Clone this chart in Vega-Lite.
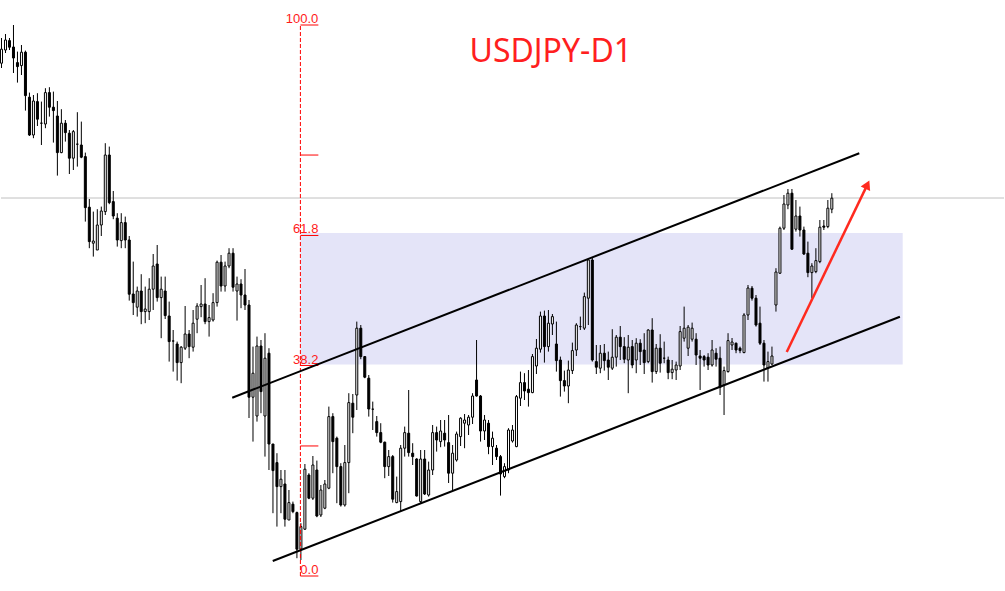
{
  "$schema": "https://vega.github.io/schema/vega-lite/v6.json",
  "width": 1005,
  "height": 591,
  "padding": 0,
  "autosize": {"type": "fit", "contains": "padding"},
  "background": "#ffffff",
  "config": {"view": {"stroke": null}, "scale": {"continuousPadding": 0}},
  "datasets": {
    "candles": [
      {"i":0,"o":151.84,"h":153.1,"l":151.6,"c":152.54},
      {"i":1,"o":152.5,"h":153.3,"l":152.35,"c":153.0},
      {"i":2,"o":152.97,"h":153.1,"l":152.5,"c":152.64},
      {"i":3,"o":152.65,"h":153.75,"l":151.35,"c":152.1},
      {"i":4,"o":151.87,"h":152.42,"l":150.87,"c":151.67},
      {"i":5,"o":151.72,"h":152.75,"l":151.25,"c":152.39},
      {"i":6,"o":152.39,"h":152.47,"l":149.47,"c":150.22},
      {"i":7,"o":150.14,"h":150.37,"l":148.2,"c":148.25},
      {"i":8,"o":148.25,"h":150.25,"l":148.09,"c":149.95},
      {"i":9,"o":149.92,"h":150.34,"l":148.7,"c":149.04},
      {"i":10,"o":148.84,"h":149.92,"l":147.75,"c":148.84},
      {"i":11,"o":148.8,"h":150.59,"l":148.59,"c":150.37},
      {"i":12,"o":150.37,"h":150.64,"l":149.17,"c":149.64},
      {"i":13,"o":149.64,"h":150.42,"l":147.87,"c":149.47},
      {"i":14,"o":149.2,"h":149.95,"l":146.22,"c":147.37},
      {"i":15,"o":147.37,"h":149.54,"l":147.34,"c":148.84},
      {"i":16,"o":148.84,"h":149.0,"l":147.92,"c":148.37},
      {"i":17,"o":148.34,"h":148.5,"l":146.3,"c":147.09},
      {"i":18,"o":147.09,"h":148.5,"l":146.5,"c":148.42},
      {"i":19,"o":147.79,"h":149.39,"l":146.67,"c":147.79},
      {"i":20,"o":147.75,"h":148.92,"l":147.09,"c":147.14},
      {"i":21,"o":147.17,"h":147.37,"l":143.92,"c":144.62},
      {"i":22,"o":144.64,"h":145.05,"l":142.59,"c":142.92},
      {"i":23,"o":142.84,"h":144.42,"l":142.17,"c":142.95},
      {"i":24,"o":142.5,"h":144.54,"l":142.5,"c":143.75},
      {"i":25,"o":143.75,"h":144.67,"l":143.2,"c":144.45},
      {"i":26,"o":144.42,"h":147.84,"l":144.25,"c":147.25},
      {"i":27,"o":147.25,"h":147.67,"l":144.79,"c":144.87},
      {"i":28,"o":144.92,"h":145.45,"l":144.04,"c":144.2},
      {"i":29,"o":144.09,"h":144.34,"l":142.67,"c":143.0},
      {"i":30,"o":142.97,"h":144.34,"l":142.59,"c":143.87},
      {"i":31,"o":143.87,"h":144.17,"l":142.59,"c":143.0},
      {"i":32,"o":143.0,"h":143.2,"l":139.97,"c":140.29},
      {"i":33,"o":140.3,"h":141.92,"l":139.25,"c":139.87},
      {"i":34,"o":139.64,"h":140.67,"l":139.17,"c":140.45},
      {"i":35,"o":140.45,"h":141.29,"l":138.79,"c":139.42},
      {"i":36,"o":139.42,"h":140.67,"l":138.84,"c":139.55},
      {"i":37,"o":139.42,"h":141.09,"l":139.0,"c":140.54},
      {"i":38,"o":140.54,"h":142.3,"l":139.5,"c":141.7},
      {"i":39,"o":141.8,"h":142.75,"l":139.92,"c":140.12},
      {"i":40,"o":140.12,"h":141.17,"l":138.09,"c":140.54},
      {"i":41,"o":140.45,"h":141.17,"l":139.05,"c":139.22},
      {"i":42,"o":139.2,"h":139.92,"l":136.92,"c":137.92},
      {"i":43,"o":137.95,"h":138.5,"l":136.42,"c":137.95},
      {"i":44,"o":137.8,"h":137.92,"l":135.97,"c":136.87},
      {"i":45,"o":136.87,"h":137.7,"l":135.84,"c":137.64},
      {"i":46,"o":137.59,"h":139.7,"l":137.5,"c":138.3},
      {"i":47,"o":138.3,"h":138.5,"l":137.09,"c":137.67},
      {"i":48,"o":137.64,"h":139.5,"l":137.42,"c":138.84},
      {"i":49,"o":139.04,"h":139.84,"l":138.34,"c":139.7},
      {"i":50,"o":139.67,"h":140.75,"l":139.14,"c":139.8},
      {"i":51,"o":139.8,"h":141.09,"l":138.79,"c":138.92},
      {"i":52,"o":138.92,"h":139.75,"l":138.17,"c":139.12},
      {"i":53,"o":139.0,"h":140.34,"l":138.92,"c":139.87},
      {"i":54,"o":139.87,"h":141.97,"l":139.67,"c":141.89},
      {"i":55,"o":141.89,"h":142.25,"l":140.42,"c":140.7},
      {"i":56,"o":140.7,"h":141.92,"l":140.42,"c":141.7},
      {"i":57,"o":141.7,"h":142.59,"l":141.59,"c":142.34},
      {"i":58,"o":142.34,"h":142.59,"l":140.42,"c":140.64},
      {"i":59,"o":140.45,"h":141.17,"l":138.97,"c":140.8},
      {"i":60,"o":140.8,"h":141.04,"l":139.59,"c":140.25},
      {"i":61,"o":140.25,"h":141.55,"l":139.5,"c":139.75},
      {"i":62,"o":139.75,"h":140.0,"l":134.1,"c":135.14},
      {"i":63,"o":135.14,"h":137.67,"l":132.92,"c":136.34},
      {"i":64,"o":134.2,"h":138.17,"l":133.92,"c":137.7},
      {"i":65,"o":137.7,"h":138.0,"l":134.34,"c":135.42},
      {"i":66,"o":134.2,"h":138.34,"l":132.17,"c":137.09},
      {"i":67,"o":137.34,"h":137.59,"l":131.5,"c":132.8},
      {"i":68,"o":132.8,"h":132.8,"l":129.34,"c":131.47},
      {"i":69,"o":131.87,"h":132.34,"l":128.67,"c":130.67},
      {"i":70,"o":130.67,"h":131.5,"l":129.34,"c":131.04},
      {"i":71,"o":130.8,"h":131.5,"l":128.67,"c":129.04},
      {"i":72,"o":129.0,"h":130.5,"l":129.0,"c":129.87},
      {"i":73,"o":129.79,"h":129.92,"l":129.34,"c":129.42},
      {"i":74,"o":129.37,"h":129.42,"l":127.09,"c":127.54},
      {"i":75,"o":127.54,"h":128.84,"l":127.0,"c":128.67},
      {"i":76,"o":128.54,"h":131.8,"l":128.5,"c":131.54},
      {"i":77,"o":131.25,"h":131.34,"l":130.04,"c":130.09},
      {"i":78,"o":130.09,"h":132.2,"l":130.0,"c":131.75},
      {"i":79,"o":131.5,"h":131.97,"l":129.14,"c":129.2},
      {"i":80,"o":129.25,"h":130.75,"l":129.15,"c":130.5},
      {"i":81,"o":129.59,"h":131.0,"l":129.54,"c":130.8},
      {"i":82,"o":130.59,"h":134.67,"l":130.54,"c":134.17},
      {"i":83,"o":134.17,"h":134.34,"l":131.34,"c":132.92},
      {"i":84,"o":133.09,"h":133.17,"l":129.84,"c":131.67},
      {"i":85,"o":131.67,"h":131.84,"l":129.67,"c":129.75},
      {"i":86,"o":129.75,"h":132.75,"l":129.67,"c":131.87},
      {"i":87,"o":131.87,"h":135.34,"l":130.34,"c":134.87},
      {"i":88,"o":134.84,"h":135.3,"l":133.34,"c":134.14},
      {"i":89,"o":135.25,"h":138.92,"l":134.5,"c":138.59},
      {"i":90,"o":138.59,"h":138.75,"l":137.04,"c":137.17},
      {"i":91,"o":137.17,"h":137.2,"l":136.09,"c":136.14},
      {"i":92,"o":136.09,"h":136.25,"l":134.17,"c":134.55},
      {"i":93,"o":134.54,"h":134.92,"l":133.5,"c":134.54},
      {"i":94,"o":133.92,"h":134.2,"l":133.17,"c":133.37},
      {"i":95,"o":133.37,"h":133.84,"l":132.84,"c":132.89},
      {"i":96,"o":132.89,"h":132.92,"l":131.09,"c":131.67},
      {"i":97,"o":131.67,"h":132.5,"l":131.2,"c":132.17},
      {"i":98,"o":132.17,"h":132.25,"l":129.87,"c":130.04},
      {"i":99,"o":129.87,"h":131.17,"l":129.84,"c":130.42},
      {"i":100,"o":129.92,"h":132.75,"l":129.42,"c":132.59},
      {"i":101,"o":132.59,"h":133.67,"l":132.17,"c":133.37},
      {"i":102,"o":133.34,"h":135.5,"l":132.17,"c":132.37},
      {"i":103,"o":132.34,"h":132.84,"l":131.75,"c":132.17},
      {"i":104,"o":132.05,"h":132.09,"l":130.17,"c":130.2},
      {"i":105,"o":129.92,"h":132.5,"l":129.84,"c":132.05},
      {"i":106,"o":132.05,"h":132.5,"l":130.25,"c":130.3},
      {"i":107,"o":130.25,"h":131.92,"l":130.17,"c":131.5},
      {"i":108,"o":131.5,"h":133.75,"l":131.25,"c":133.37},
      {"i":109,"o":133.37,"h":133.67,"l":132.42,"c":133.0},
      {"i":110,"o":132.92,"h":134.0,"l":132.64,"c":133.45},
      {"i":111,"o":133.34,"h":134.0,"l":132.67,"c":133.0},
      {"i":112,"o":132.87,"h":134.25,"l":130.85,"c":131.34},
      {"i":113,"o":131.34,"h":132.75,"l":130.5,"c":132.34},
      {"i":114,"o":132.0,"h":133.42,"l":131.92,"c":133.3},
      {"i":115,"o":133.17,"h":134.14,"l":132.7,"c":134.09},
      {"i":116,"o":133.84,"h":134.3,"l":132.59,"c":134.0},
      {"i":117,"o":133.75,"h":134.25,"l":133.25,"c":134.14},
      {"i":118,"o":134.14,"h":135.34,"l":133.8,"c":135.2},
      {"i":119,"o":136.0,"h":138.0,"l":135.17,"c":135.2},
      {"i":120,"o":135.2,"h":135.25,"l":132.92,"c":133.45},
      {"i":121,"o":133.45,"h":134.25,"l":133.0,"c":134.0},
      {"i":122,"o":133.84,"h":134.0,"l":132.29,"c":132.67},
      {"i":123,"o":132.67,"h":133.42,"l":131.75,"c":133.09},
      {"i":124,"o":132.59,"h":132.75,"l":132.0,"c":132.17},
      {"i":125,"o":132.17,"h":132.25,"l":130.22,"c":131.3},
      {"i":126,"o":131.17,"h":131.84,"l":131.09,"c":131.67},
      {"i":127,"o":131.5,"h":133.59,"l":131.34,"c":133.5},
      {"i":128,"o":132.95,"h":133.75,"l":132.87,"c":133.5},
      {"i":129,"o":132.67,"h":135.25,"l":132.64,"c":135.17},
      {"i":130,"o":135.09,"h":136.42,"l":134.7,"c":135.87},
      {"i":131,"o":135.87,"h":136.34,"l":135.0,"c":135.45},
      {"i":132,"o":135.54,"h":136.5,"l":134.67,"c":135.37},
      {"i":133,"o":135.37,"h":137.3,"l":135.34,"c":137.17},
      {"i":134,"o":136.7,"h":138.05,"l":136.3,"c":137.59},
      {"i":135,"o":137.54,"h":139.42,"l":137.37,"c":139.2},
      {"i":136,"o":139.2,"h":139.47,"l":136.87,"c":137.67},
      {"i":137,"o":137.67,"h":139.5,"l":137.42,"c":138.84},
      {"i":138,"o":138.8,"h":139.3,"l":138.25,"c":139.17},
      {"i":139,"o":137.8,"h":138.92,"l":136.42,"c":136.97},
      {"i":140,"o":137.0,"h":137.17,"l":135.17,"c":135.97},
      {"i":141,"o":135.97,"h":136.47,"l":135.42,"c":135.7},
      {"i":142,"o":135.7,"h":136.97,"l":134.84,"c":136.5},
      {"i":143,"o":136.47,"h":137.87,"l":136.3,"c":137.47},
      {"i":144,"o":137.5,"h":138.84,"l":137.2,"c":138.75},
      {"i":145,"o":138.67,"h":139.17,"l":138.5,"c":138.67},
      {"i":146,"o":138.59,"h":140.37,"l":138.5,"c":140.17},
      {"i":147,"o":140.09,"h":142.04,"l":138.75,"c":142.0},
      {"i":148,"o":142.0,"h":142.14,"l":136.92,"c":137.0},
      {"i":149,"o":136.92,"h":137.75,"l":136.3,"c":136.64},
      {"i":150,"o":136.59,"h":137.75,"l":136.34,"c":137.34},
      {"i":151,"o":137.34,"h":137.8,"l":136.47,"c":136.97},
      {"i":152,"o":137.0,"h":137.42,"l":136.0,"c":136.64},
      {"i":153,"o":136.59,"h":138.54,"l":136.5,"c":137.14},
      {"i":154,"o":137.14,"h":138.25,"l":136.67,"c":138.14},
      {"i":155,"o":138.14,"h":138.7,"l":137.0,"c":137.67},
      {"i":156,"o":137.67,"h":138.14,"l":136.84,"c":137.04},
      {"i":157,"o":137.0,"h":138.25,"l":135.34,"c":137.64},
      {"i":158,"o":137.67,"h":138.0,"l":136.59,"c":136.75},
      {"i":159,"o":137.0,"h":138.09,"l":136.34,"c":137.84},
      {"i":160,"o":137.84,"h":138.04,"l":136.75,"c":137.42},
      {"i":161,"o":137.5,"h":138.34,"l":136.3,"c":136.87},
      {"i":162,"o":136.92,"h":138.54,"l":136.84,"c":138.5},
      {"i":163,"o":138.5,"h":139.09,"l":135.87,"c":136.42},
      {"i":164,"o":136.42,"h":137.8,"l":136.3,"c":137.59},
      {"i":165,"o":137.59,"h":138.29,"l":136.37,"c":136.84},
      {"i":166,"o":137.09,"h":137.92,"l":136.84,"c":137.09},
      {"i":167,"o":137.0,"h":137.17,"l":136.04,"c":136.37},
      {"i":168,"o":136.37,"h":137.0,"l":136.04,"c":136.54},
      {"i":169,"o":136.5,"h":136.92,"l":136.0,"c":136.75},
      {"i":170,"o":136.7,"h":138.7,"l":136.5,"c":138.42},
      {"i":171,"o":138.09,"h":139.67,"l":137.92,"c":138.59},
      {"i":172,"o":137.59,"h":138.75,"l":137.2,"c":138.64},
      {"i":173,"o":138.04,"h":138.87,"l":137.92,"c":138.59},
      {"i":174,"o":138.04,"h":138.34,"l":136.75,"c":137.25},
      {"i":175,"o":137.2,"h":137.5,"l":135.5,"c":137.09},
      {"i":176,"o":137.17,"h":137.25,"l":136.67,"c":137.0},
      {"i":177,"o":137.14,"h":137.34,"l":136.5,"c":136.75},
      {"i":178,"o":136.75,"h":138.0,"l":136.67,"c":137.5},
      {"i":179,"o":137.34,"h":137.59,"l":136.67,"c":137.04},
      {"i":180,"o":137.09,"h":137.67,"l":135.25,"c":135.64},
      {"i":181,"o":135.75,"h":136.67,"l":134.25,"c":136.47},
      {"i":182,"o":136.42,"h":138.34,"l":136.37,"c":137.97},
      {"i":183,"o":137.75,"h":138.1,"l":137.5,"c":137.9},
      {"i":184,"o":137.84,"h":137.87,"l":137.34,"c":137.5},
      {"i":185,"o":137.59,"h":137.67,"l":137.34,"c":137.47},
      {"i":186,"o":137.37,"h":139.34,"l":137.34,"c":139.25},
      {"i":187,"o":139.25,"h":140.75,"l":139.0,"c":140.6},
      {"i":188,"o":140.59,"h":140.7,"l":139.97,"c":140.09},
      {"i":189,"o":140.09,"h":140.25,"l":138.67,"c":138.75},
      {"i":190,"o":138.84,"h":139.67,"l":137.75,"c":137.84},
      {"i":191,"o":137.84,"h":138.0,"l":135.92,"c":136.75},
      {"i":192,"o":136.6,"h":137.42,"l":135.92,"c":136.92},
      {"i":193,"o":136.8,"h":137.67,"l":136.75,"c":137.2},
      {"i":194,"o":139.75,"h":141.59,"l":139.42,"c":141.4},
      {"i":195,"o":141.34,"h":143.67,"l":141.3,"c":143.59},
      {"i":196,"o":143.59,"h":145.25,"l":143.5,"c":144.8},
      {"i":197,"o":144.75,"h":145.55,"l":144.54,"c":145.34},
      {"i":198,"o":145.34,"h":145.55,"l":142.5,"c":142.54},
      {"i":199,"o":143.54,"h":145.0,"l":143.42,"c":144.2},
      {"i":200,"o":144.2,"h":144.67,"l":143.17,"c":143.5},
      {"i":201,"o":143.5,"h":143.67,"l":142.25,"c":142.3},
      {"i":202,"o":142.34,"h":142.92,"l":141.14,"c":141.37},
      {"i":203,"o":141.37,"h":141.84,"l":140.09,"c":141.7},
      {"i":204,"o":141.42,"h":142.59,"l":141.34,"c":141.97},
      {"i":205,"o":141.92,"h":144.0,"l":141.84,"c":143.64},
      {"i":206,"o":143.7,"h":144.0,"l":143.5,"c":143.64},
      {"i":207,"o":143.67,"h":145.0,"l":143.59,"c":144.59},
      {"i":208,"o":144.54,"h":145.34,"l":144.34,"c":145.09}
    ]
  },
  "layer": [
    {
      "data": {"values": [{"a": 74.875, "b": 225.75, "lo": 136.775, "hi": 143.35}]},
      "mark": {"type": "rect", "fill": "#e4e4f8"},
      "encoding": {
        "x": {"field": "a", "type": "quantitative", "axis": null, "scale": {"domain": [-0.125, 251.125], "nice": false, "zero": false, "padding": 0}},
        "x2": {"field": "b"},
        "y": {"field": "lo", "type": "quantitative", "axis": null, "scale": {"domain": [125.45, 155], "nice": false, "zero": false, "padding": 0}},
        "y2": {"field": "hi"}
      }
    },
    {
      "data": {"values": [{"p": 145.1}]},
      "mark": {"type": "rule", "stroke": "#c0c0c0", "strokeWidth": 1},
      "encoding": {
        "y": {"field": "p", "type": "quantitative", "axis": null, "scale": {"domain": [125.45, 155], "nice": false, "zero": false, "padding": 0}}
      }
    },
    {
      "data": {"name": "candles"},
      "mark": {"type": "rule", "stroke": "#000000", "strokeWidth": 1},
      "encoding": {
        "x": {"field": "i", "type": "quantitative", "axis": null, "scale": {"domain": [-0.125, 251.125], "nice": false, "zero": false, "padding": 0}},
        "y": {"field": "l", "type": "quantitative", "axis": null, "scale": {"domain": [125.45, 155], "nice": false, "zero": false, "padding": 0}},
        "y2": {"field": "h"}
      }
    },
    {
      "data": {"name": "candles"},
      "mark": {"type": "bar", "width": 2, "stroke": "#000000", "strokeWidth": 1},
      "encoding": {
        "x": {"field": "i", "type": "quantitative", "axis": null, "scale": {"domain": [-0.125, 251.125], "nice": false, "zero": false, "padding": 0}},
        "y": {"field": "o", "type": "quantitative", "axis": null, "scale": {"domain": [125.45, 155], "nice": false, "zero": false, "padding": 0}},
        "y2": {"field": "c"},
        "fill": {"condition": {"test": "datum.c > datum.o", "value": "#ffffff"}, "value": "#000000"}
      }
    },
    {
      "data": {"values": [{"a": 74.875, "lo": 126.2, "hi": 153.75}]},
      "mark": {"type": "rule", "stroke": "#ff0000", "strokeWidth": 1, "strokeDash": [4, 2]},
      "encoding": {
        "x": {"field": "a", "type": "quantitative", "axis": null, "scale": {"domain": [-0.125, 251.125], "nice": false, "zero": false, "padding": 0}},
        "y": {"field": "lo", "type": "quantitative", "axis": null, "scale": {"domain": [125.45, 155], "nice": false, "zero": false, "padding": 0}},
        "y2": {"field": "hi"}
      }
    },
    {
      "data": {"values": [
        {"a": 74.875, "b": 79.375, "lv": 153.75, "t": "100.0"},
        {"a": 74.875, "b": 79.375, "lv": 147.248, "t": ""},
        {"a": 74.875, "b": 79.375, "lv": 143.226, "t": "61.8"},
        {"a": 74.875, "b": 79.375, "lv": 136.724, "t": "38.2"},
        {"a": 74.875, "b": 79.375, "lv": 132.702, "t": ""},
        {"a": 74.875, "b": 79.375, "lv": 126.2, "t": "0.0"}
      ]},
      "layer": [
        {
          "mark": {"type": "rule", "stroke": "#ff0000", "strokeWidth": 1},
          "encoding": {
            "x": {"field": "a", "type": "quantitative", "axis": null, "scale": {"domain": [-0.125, 251.125], "nice": false, "zero": false, "padding": 0}},
            "x2": {"field": "b"},
            "y": {"field": "lv", "type": "quantitative", "axis": null, "scale": {"domain": [125.45, 155], "nice": false, "zero": false, "padding": 0}}
          }
        },
        {
          "mark": {"type": "text", "align": "right", "baseline": "alphabetic", "dy": -2, "font": "Liberation Sans", "fontSize": 13, "fill": "#ff1a1a"},
          "encoding": {
            "x": {"field": "b", "type": "quantitative", "axis": null, "scale": {"domain": [-0.125, 251.125], "nice": false, "zero": false, "padding": 0}},
            "y": {"field": "lv", "type": "quantitative", "axis": null, "scale": {"domain": [125.45, 155], "nice": false, "zero": false, "padding": 0}},
            "text": {"field": "t"}
          }
        }
      ]
    },
    {
      "data": {"values": [
        {"a": 57.8, "p": 135.115, "b": 214.875, "q": 147.335},
        {"a": 67.95, "p": 126.95, "b": 225.05, "q": 139.165}
      ]},
      "mark": {"type": "rule", "stroke": "#000000", "strokeWidth": 2},
      "encoding": {
        "x": {"field": "a", "type": "quantitative", "axis": null, "scale": {"domain": [-0.125, 251.125], "nice": false, "zero": false, "padding": 0}},
        "x2": {"field": "b"},
        "y": {"field": "p", "type": "quantitative", "axis": null, "scale": {"domain": [125.45, 155], "nice": false, "zero": false, "padding": 0}},
        "y2": {"field": "q"}
      }
    },
    {
      "data": {"values": [{"a": 196.7, "p": 137.4, "b": 216.9, "q": 145.77}]},
      "mark": {"type": "rule", "stroke": "#ff2a1f", "strokeWidth": 2.5},
      "encoding": {
        "x": {"field": "a", "type": "quantitative", "axis": null, "scale": {"domain": [-0.125, 251.125], "nice": false, "zero": false, "padding": 0}},
        "x2": {"field": "b"},
        "y": {"field": "p", "type": "quantitative", "axis": null, "scale": {"domain": [125.45, 155], "nice": false, "zero": false, "padding": 0}},
        "y2": {"field": "q"}
      }
    },
    {
      "data": {"values": [{"b": 216.9, "q": 145.77}]},
      "mark": {"type": "point", "shape": "triangle-up", "filled": true, "size": 110, "angle": 25.8, "fill": "#ff2a1f", "opacity": 1, "strokeWidth": 0},
      "encoding": {
        "x": {"field": "b", "type": "quantitative", "axis": null, "scale": {"domain": [-0.125, 251.125], "nice": false, "zero": false, "padding": 0}},
        "y": {"field": "q", "type": "quantitative", "axis": null, "scale": {"domain": [125.45, 155], "nice": false, "zero": false, "padding": 0}}
      }
    },
    {
      "data": {"values": [{"t": "USDJPY-D1", "a": 137.6, "p": 151.9}]},
      "mark": {"type": "text", "align": "center", "baseline": "alphabetic", "font": "Noto Sans", "fontSize": 32, "fill": "#ff1f1f"},
      "encoding": {
        "x": {"field": "a", "type": "quantitative", "axis": null, "scale": {"domain": [-0.125, 251.125], "nice": false, "zero": false, "padding": 0}},
        "y": {"field": "p", "type": "quantitative", "axis": null, "scale": {"domain": [125.45, 155], "nice": false, "zero": false, "padding": 0}},
        "text": {"field": "t"}
      }
    }
  ]
}
